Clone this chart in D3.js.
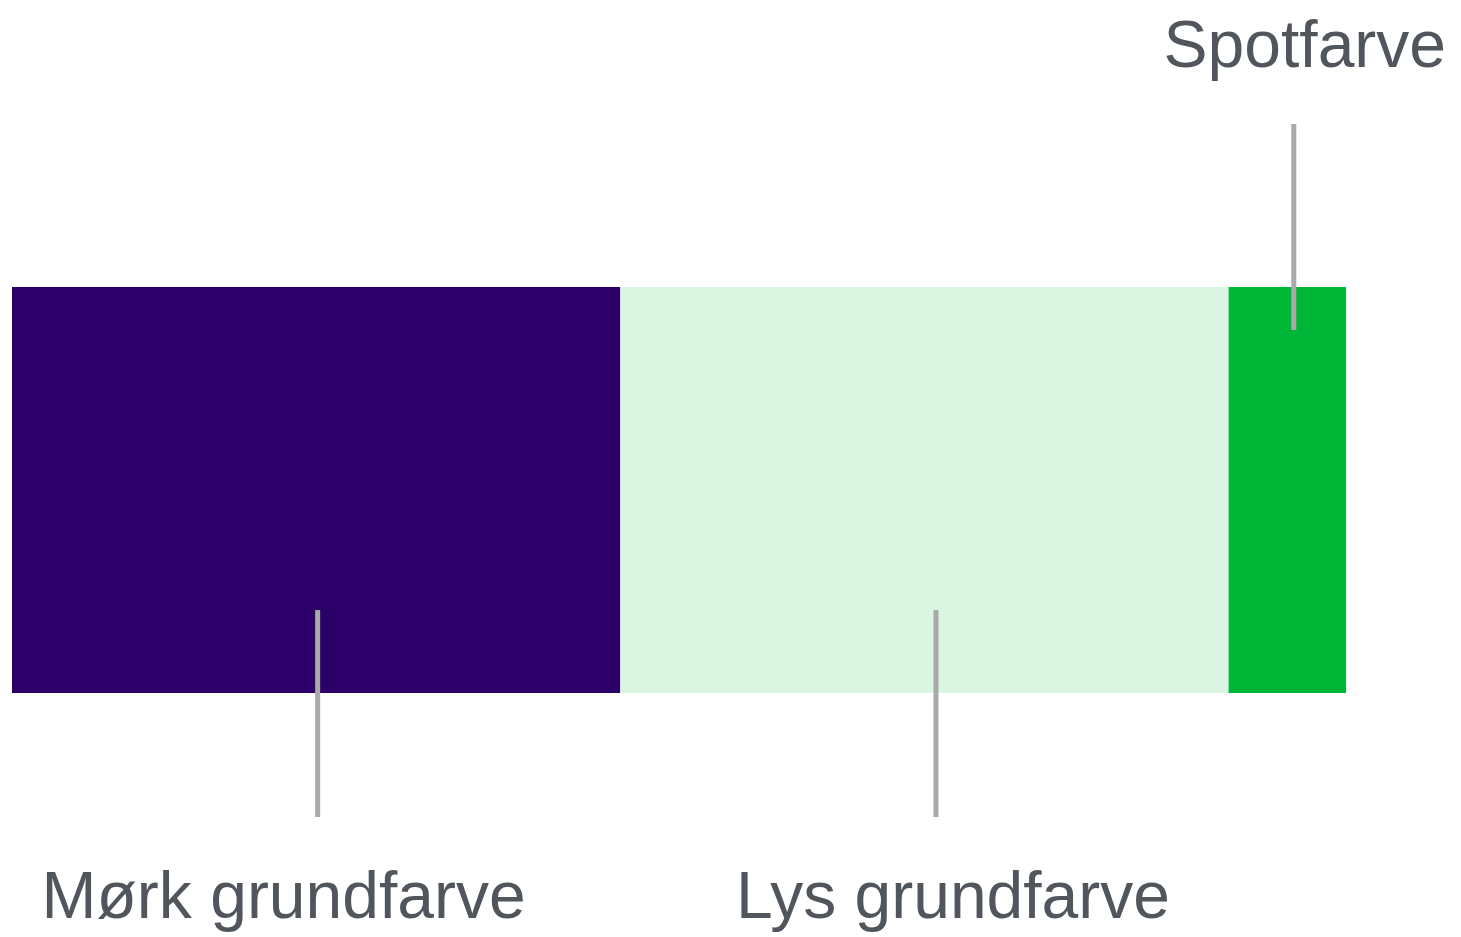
<!DOCTYPE html>
<html>
<head>
<meta charset="utf-8">
<script src="https://cdn.jsdelivr.net/npm/d3@7"></script>
<style>
  html, body { margin: 0; padding: 0; background: #ffffff; }
  svg { display: block; }
</style>
</head>
<body>
<svg id="chart" width="1461" height="937"></svg>
<script>
// Data
const categories = ["Mørk grundfarve", "Lys grundfarve", "Spotfarve"];
const values = [45.6, 45.6, 8.8];
const colors = ["#2b0068", "#daf6e2", "#00b636"];
const labelSide = ["below", "below", "above"];

const svg = d3.select("#chart");
const x = d3.scaleLinear().domain([0, d3.sum(values)]).range([12, 1346]);
const barTop = 287, barBottom = 693;

let acc = 0;
const segs = values.map((v, i) => {
  const s = { cat: categories[i], v, x0: acc, x1: acc + v, color: colors[i], side: labelSide[i], i };
  acc += v;
  return s;
});

svg.selectAll("rect.seg")
  .data(segs)
  .join("rect")
  .attr("class", "seg")
  .attr("x", d => x(d.x0))
  .attr("y", barTop)
  .attr("width", d => x(d.x1) - x(d.x0))
  .attr("height", barBottom - barTop)
  .attr("fill", d => d.color);

// leader lines
const lineOffset = [1.5, 11.5, 6.5];
const lineX = d => (x(d.x0) + x(d.x1)) / 2 + lineOffset[d.i];
svg.selectAll("line.leader")
  .data(segs)
  .join("line")
  .attr("class", "leader")
  .attr("x1", lineX).attr("x2", lineX)
  .attr("y1", d => d.side === "below" ? 610 : 124)
  .attr("y2", d => d.side === "below" ? 817 : 330)
  .attr("stroke", "#a9a9a9")
  .attr("stroke-width", 5);

// labels
const labelShift = [-34, 17, 11];
svg.selectAll("text.lbl")
  .data(segs)
  .join("text")
  .attr("class", "lbl")
  .attr("x", d => lineX(d) + labelShift[d.i])
  .attr("y", d => d.side === "below" ? 918 : 67)
  .attr("text-anchor", "middle")
  .attr("font-family", "'Liberation Sans', Arial, sans-serif")
  .attr("font-size", 66)
  .attr("fill", "#51565d")
  .text(d => d.cat);
</script>
</body>
</html>
